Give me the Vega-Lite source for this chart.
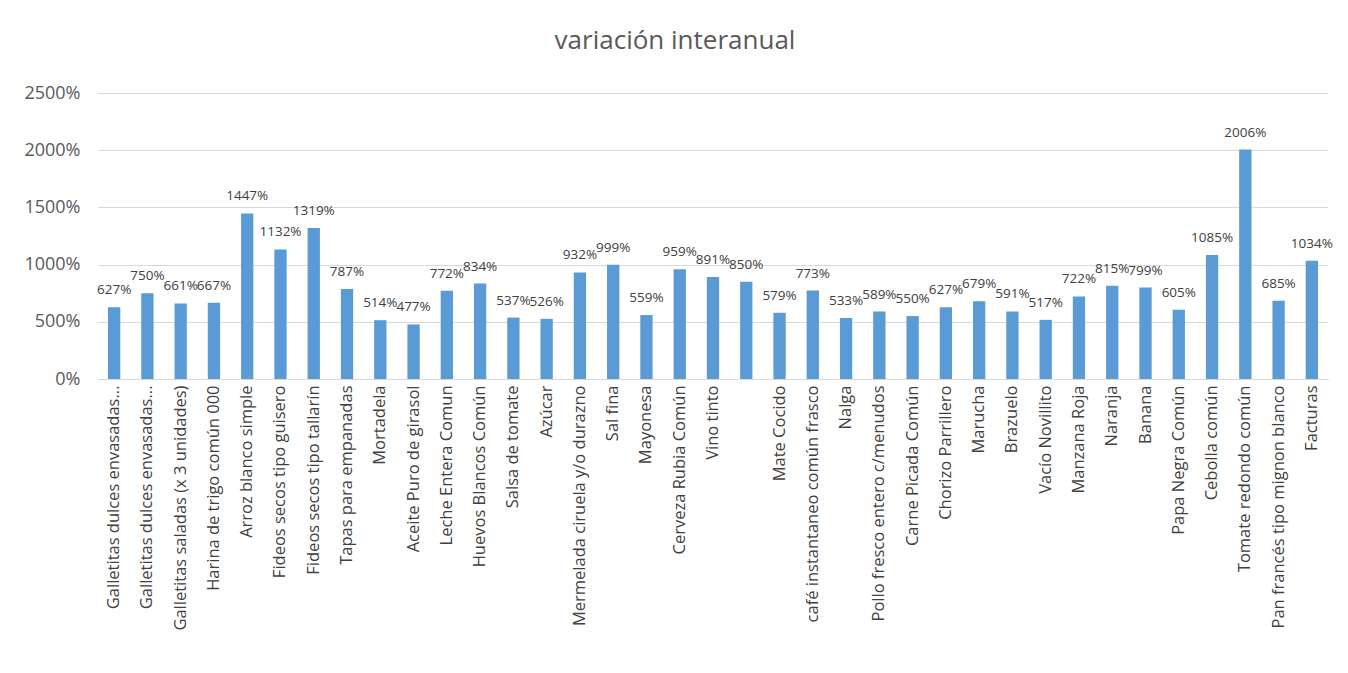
{
  "$schema": "https://vega.github.io/schema/vega-lite/v6.json",
  "autosize": "none",
  "width": 1230,
  "height": 286,
  "padding": {"left": 98, "top": 93, "right": 20, "bottom": 294},
  "background": "white",
  "title": {
    "text": "variación interanual",
    "font": "Open Sans",
    "fontSize": 26,
    "fontWeight": "normal",
    "color": "#595959",
    "anchor": "middle",
    "dx": -38,
    "offset": 30
  },
  "data": {
    "values": [
      {"i": 1, "producto": "Galletitas dulces envasadas...", "v": 6.27},
      {"i": 2, "producto": "Galletitas dulces envasadas... ", "v": 7.50},
      {"i": 3, "producto": "Galletitas saladas (x 3 unidades)", "v": 6.61},
      {"i": 4, "producto": "Harina de trigo común 000", "v": 6.67},
      {"i": 5, "producto": "Arroz blanco simple", "v": 14.47},
      {"i": 6, "producto": "Fideos secos tipo guisero", "v": 11.32},
      {"i": 7, "producto": "Fideos secos tipo tallarín", "v": 13.19},
      {"i": 8, "producto": "Tapas para empanadas", "v": 7.87},
      {"i": 9, "producto": "Mortadela", "v": 5.14},
      {"i": 10, "producto": "Aceite Puro de girasol", "v": 4.77},
      {"i": 11, "producto": "Leche Entera Comun", "v": 7.72},
      {"i": 12, "producto": "Huevos Blancos Común", "v": 8.34},
      {"i": 13, "producto": "Salsa de tomate", "v": 5.37},
      {"i": 14, "producto": "Azúcar", "v": 5.26},
      {"i": 15, "producto": "Mermelada ciruela y/o durazno", "v": 9.32},
      {"i": 16, "producto": "Sal fina", "v": 9.99},
      {"i": 17, "producto": "Mayonesa", "v": 5.59},
      {"i": 18, "producto": "Cerveza Rubia Común", "v": 9.59},
      {"i": 19, "producto": "Vino tinto", "v": 8.91},
      {"i": 20, "producto": " ", "v": 8.50},
      {"i": 21, "producto": "Mate Cocido", "v": 5.79},
      {"i": 22, "producto": "café instantaneo común frasco", "v": 7.73},
      {"i": 23, "producto": "Nalga", "v": 5.33},
      {"i": 24, "producto": "Pollo fresco entero c/menudos", "v": 5.89},
      {"i": 25, "producto": "Carne Picada Común", "v": 5.50},
      {"i": 26, "producto": "Chorizo Parrillero", "v": 6.27},
      {"i": 27, "producto": "Marucha", "v": 6.79},
      {"i": 28, "producto": "Brazuelo", "v": 5.91},
      {"i": 29, "producto": "Vacío Novillito", "v": 5.17},
      {"i": 30, "producto": "Manzana Roja", "v": 7.22},
      {"i": 31, "producto": "Naranja", "v": 8.15},
      {"i": 32, "producto": "Banana", "v": 7.99},
      {"i": 33, "producto": "Papa Negra Común", "v": 6.05},
      {"i": 34, "producto": "Cebolla común", "v": 10.85},
      {"i": 35, "producto": "Tomate redondo común", "v": 20.06},
      {"i": 36, "producto": "Pan francés tipo mignon blanco", "v": 6.85},
      {"i": 37, "producto": "Facturas", "v": 10.34}
    ]
  },
  "encoding": {
    "x": {
      "field": "producto",
      "type": "nominal",
      "sort": {"field": "i", "order": "ascending"},
      "scale": {"paddingInner": 0.63, "paddingOuter": 0.3},
      "axis": {
        "title": null,
        "labelAngle": -90,
        "labelAlign": "right",
        "labelBaseline": "middle",
        "labelFont": "Open Sans",
        "labelFontSize": 16.5,
        "labelColor": "#404040",
        "labelLimit": 300,
        "labelPadding": 6,
        "ticks": false,
        "domainColor": "#D9D9D9",
        "grid": false
      }
    },
    "y": {
      "field": "v",
      "type": "quantitative",
      "scale": {"domain": [0, 25], "nice": false},
      "axis": {
        "title": null,
        "values": [0, 5, 10, 15, 20, 25],
        "format": ".0%",
        "labelFont": "Open Sans",
        "labelFontSize": 18,
        "labelColor": "#595959",
        "labelPadding": 18,
        "ticks": false,
        "domain": false,
        "gridColor": "#D9D9D9",
        "gridWidth": 1
      }
    }
  },
  "layer": [
    {"mark": {"type": "bar", "color": "#5B9BD5"}},
    {
      "mark": {
        "type": "text",
        "baseline": "bottom",
        "dy": -10,
        "font": "Open Sans",
        "fontSize": 13.5,
        "color": "#404040"
      },
      "encoding": {"text": {"field": "v", "type": "quantitative", "format": ".0%"}}
    }
  ],
  "config": {"view": {"stroke": null}}
}
